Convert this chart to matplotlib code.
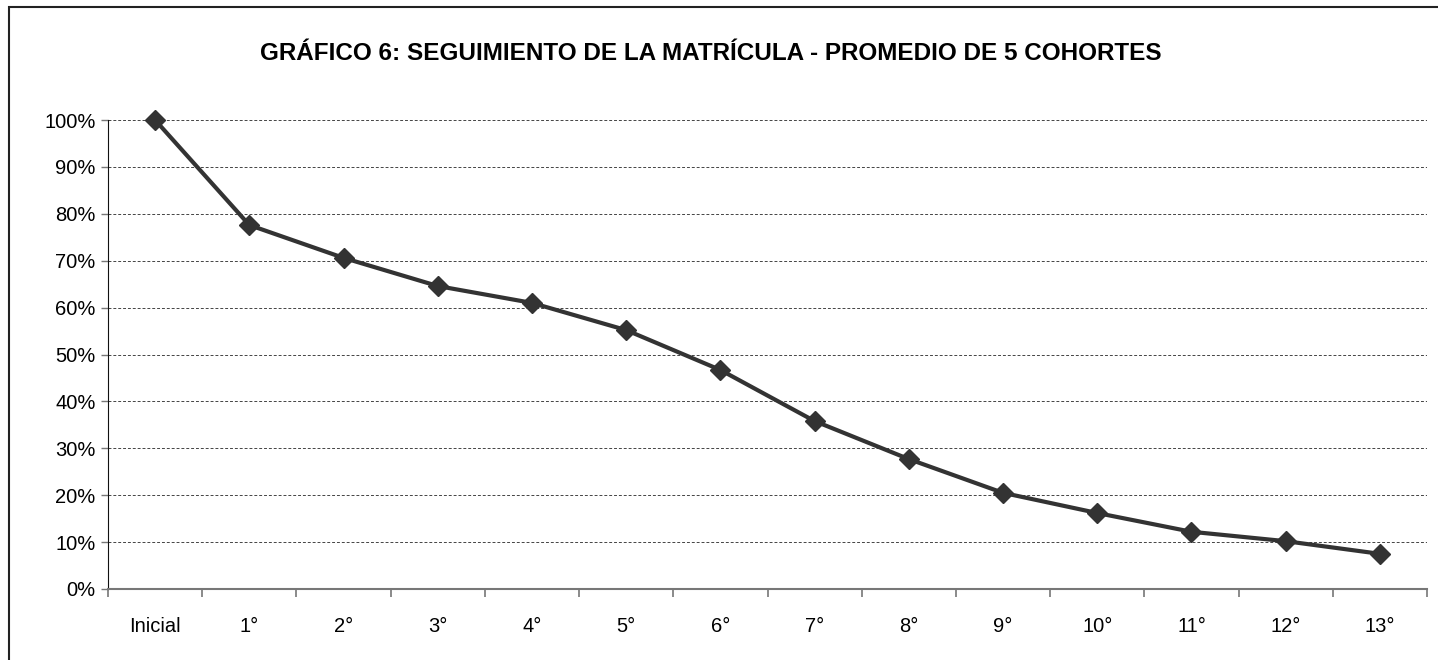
import matplotlib.pyplot as plt
from matplotlib.patches import Rectangle
from matplotlib.ticker import FixedLocator, FuncFormatter
import numpy as np

plt.rcParams['font.family'] = ['Liberation Sans', 'DejaVu Sans']

# data
categorias = ['Inicial', '1°', '2°', '3°', '4°', '5°', '6°', '7°',
              '8°', '9°', '10°', '11°', '12°', '13°']
matricula = [100, 77.6, 70.6, 64.6, 61.0, 55.2, 46.7, 35.8,
             27.7, 20.5, 16.2, 12.2, 10.2, 7.5]

fig = plt.figure(figsize=(14.38, 6.6), dpi=100)

# outer frame of the chart area
fig.patches.append(Rectangle((9 / 1438, -0.05), 1.05, 1.05 - 7 / 660,
                             transform=fig.transFigure, fill=False,
                             edgecolor='#222222', linewidth=1.5))

ax = fig.add_axes([108 / 1438, 1 - 589 / 660, (1427 - 108) / 1438, (589 - 120) / 660])

x = np.arange(len(categorias))
ax.plot(x, matricula, color='#333333', linewidth=3, marker='D',
        markersize=10, zorder=3, clip_on=False)

ax.set_xlim(-0.5, len(categorias) - 0.5)
ax.set_ylim(0, 100)
ax.set_yticks(np.arange(0, 101, 10))
ax.yaxis.set_major_formatter(FuncFormatter(lambda v, p: f'{int(v)}%'))
ax.yaxis.grid(True, linestyle=(0, (3, 2)), color='#444444', linewidth=0.7)
ax.set_axisbelow(True)

ax.set_xticks(x)
ax.set_xticklabels(categorias)
ax.xaxis.set_minor_locator(FixedLocator(np.arange(-0.5, len(categorias), 1)))
ax.tick_params(axis='x', which='major', length=0, pad=20, labelsize=14.5)
ax.tick_params(axis='x', which='minor', length=6, color='#777777', width=1.2)
ax.tick_params(axis='y', length=5, width=1, color='#777777', labelsize=14.5, pad=4)

ax.spines['top'].set_visible(False)
ax.spines['right'].set_visible(False)
ax.spines['left'].set_color('#111111')
ax.spines['bottom'].set_color('#777777')
ax.spines['bottom'].set_linewidth(1.5)

fig.text(0.494, 1 - 53 / 660, 'GRÁFICO 6: SEGUIMIENTO DE LA MATRÍCULA - PROMEDIO DE 5 COHORTES',
         ha='center', va='center', fontsize=17.5, fontweight='bold')

fig.savefig('out.png', dpi=100)
